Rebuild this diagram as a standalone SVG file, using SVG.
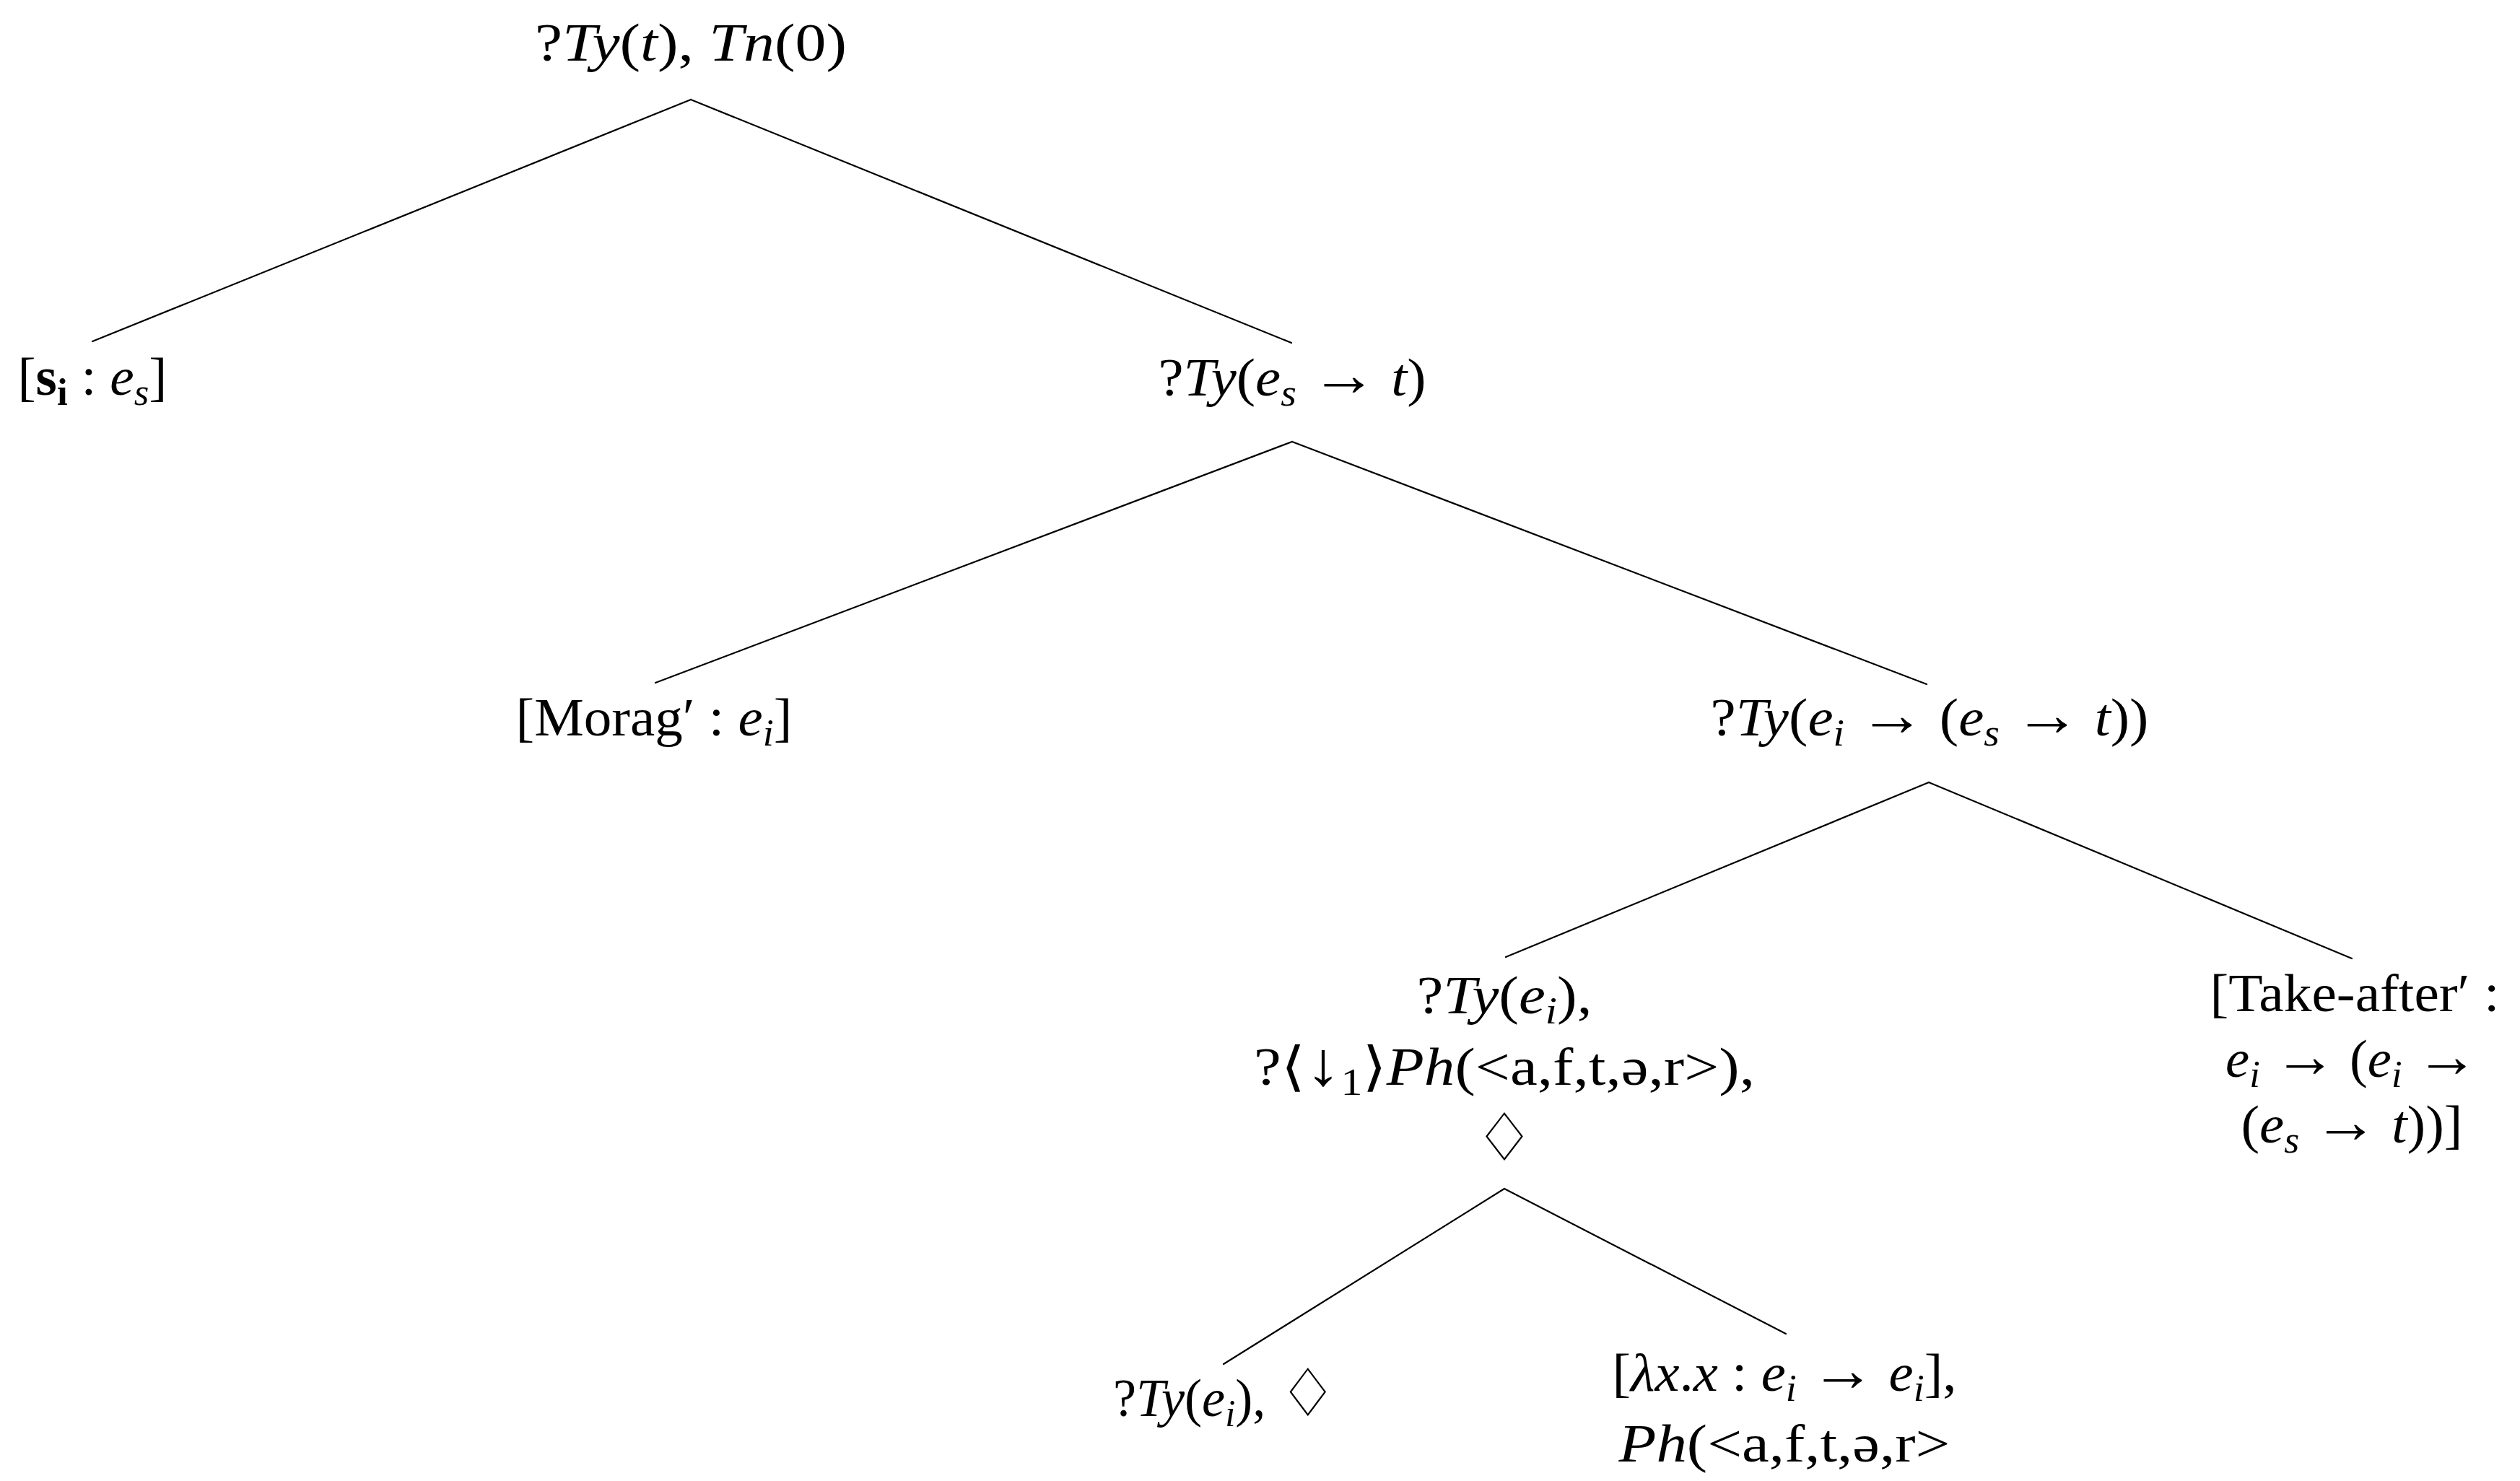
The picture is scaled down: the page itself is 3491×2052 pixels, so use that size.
<svg xmlns="http://www.w3.org/2000/svg" width="3491" height="2052" viewBox="0 0 3491 2052">
<style>
.t { font-family: "Liberation Serif", "DejaVu Serif", serif; font-size: 74px; fill: #000; }
.i { font-style: italic; }
.b { font-weight: bold; }
.sb { font-size: 52px; }
.sym { font-family: "DejaVu Sans", "DejaVu Serif", sans-serif; }
.ar { font-family: "Liberation Serif", serif; font-size: 86px; }
.dm { font-family: "DejaVu Sans", sans-serif; font-size: 92px; }
.edge { stroke: #000; stroke-width: 2.2; fill: none; stroke-linecap: round; }
</style>
<rect width="3491" height="2052" fill="#fff"/>
<g id="connectors">
<line class="edge" x1="957" y1="138" x2="128" y2="473"/>
<line class="edge" x1="957" y1="138" x2="1789" y2="475"/>
<line class="edge" x1="1790" y1="612" x2="908" y2="946"/>
<line class="edge" x1="1790" y1="612" x2="2669" y2="948"/>
<line class="edge" x1="2672" y1="1084" x2="2086" y2="1326"/>
<line class="edge" x1="2672" y1="1084" x2="3258" y2="1328"/>
<line class="edge" x1="2084" y1="1647" x2="1695" y2="1890"/>
<line class="edge" x1="2084" y1="1647" x2="2474" y2="1848"/>
</g>
<g id="node-root">
<text class="t" x="957" y="84" text-anchor="middle" textLength="432" lengthAdjust="spacingAndGlyphs">?<tspan class="i">Ty</tspan>(<tspan class="i">t</tspan>), <tspan class="i">Tn</tspan>(0)</text>
</g>
<g id="node-si">
<text class="t" x="128" y="547" text-anchor="middle" textLength="207" lengthAdjust="spacingAndGlyphs">[<tspan class="b">s</tspan><tspan class="b sb" dy="14">i</tspan><tspan dy="-14"> : </tspan><tspan class="i">e</tspan><tspan class="i sb" dy="14">s</tspan><tspan dy="-14">]</tspan></text>
</g>
<g id="node-es-t">
<text class="t" x="1790" y="548" text-anchor="middle" textLength="371" lengthAdjust="spacingAndGlyphs">?<tspan class="i">Ty</tspan>(<tspan class="i">e</tspan><tspan class="i sb" dy="14">s</tspan><tspan dy="-14"> </tspan><tspan class="ar">→</tspan> <tspan class="i">t</tspan>)</text>
</g>
<g id="node-morag">
<text class="t" x="906" y="1019" text-anchor="middle" textLength="383" lengthAdjust="spacingAndGlyphs">[Morag′ : <tspan class="i">e</tspan><tspan class="i sb" dy="14">i</tspan><tspan dy="-14">]</tspan></text>
</g>
<g id="node-ei-es-t">
<text class="t" x="2673" y="1019" text-anchor="middle" textLength="607" lengthAdjust="spacingAndGlyphs">?<tspan class="i">Ty</tspan>(<tspan class="i">e</tspan><tspan class="i sb" dy="14">i</tspan><tspan dy="-14"> </tspan><tspan class="ar">→</tspan> (<tspan class="i">e</tspan><tspan class="i sb" dy="14">s</tspan><tspan dy="-14"> </tspan><tspan class="ar">→</tspan> <tspan class="i">t</tspan>))</text>
</g>
<g id="node-tyei-ph">
<text class="t" x="2084" y="1404" text-anchor="middle" textLength="243" lengthAdjust="spacingAndGlyphs">?<tspan class="i">Ty</tspan>(<tspan class="i">e</tspan><tspan class="i sb" dy="14">i</tspan><tspan dy="-14">),</tspan></text>
<text class="t" x="2084" y="1503" text-anchor="middle" textLength="694" lengthAdjust="spacingAndGlyphs">?<tspan class="sym">⟨</tspan><tspan class="ar">↓</tspan><tspan class="sb" dy="14">1</tspan><tspan class="sym" dy="-14">⟩</tspan><tspan class="i">Ph</tspan>(&lt;a,f,t,ə,r&gt;),</text>
<text class="t dm" x="2084" y="1608" text-anchor="middle">♢</text>
</g>
<g id="node-take-after">
<text class="t" x="3262" y="1401" text-anchor="middle" textLength="401" lengthAdjust="spacingAndGlyphs">[Take-after′ :</text>
<text class="t" x="3258" y="1492" text-anchor="middle" textLength="350" lengthAdjust="spacingAndGlyphs"><tspan class="i">e</tspan><tspan class="i sb" dy="14">i</tspan><tspan dy="-14"> </tspan><tspan class="ar">→</tspan> (<tspan class="i">e</tspan><tspan class="i sb" dy="14">i</tspan><tspan dy="-14"> </tspan><tspan class="ar">→</tspan></text>
<text class="t" x="3258" y="1583" text-anchor="middle" textLength="307" lengthAdjust="spacingAndGlyphs">(<tspan class="i">e</tspan><tspan class="i sb" dy="14">s</tspan><tspan dy="-14"> </tspan><tspan class="ar">→</tspan> <tspan class="i">t</tspan>))]</text>
</g>
<g id="node-tyei-diamond">
<text class="t" x="1697" y="1962" text-anchor="middle" textLength="310" lengthAdjust="spacingAndGlyphs">?<tspan class="i">Ty</tspan>(<tspan class="i">e</tspan><tspan class="i sb" dy="14">i</tspan><tspan dy="-14">), </tspan><tspan class="dm">♢</tspan></text>
</g>
<g id="node-lambda">
<text class="t" x="2472" y="1927" text-anchor="middle" textLength="477" lengthAdjust="spacingAndGlyphs">[<tspan class="i">λx</tspan>.<tspan class="i">x</tspan> : <tspan class="i">e</tspan><tspan class="i sb" dy="14">i</tspan><tspan dy="-14"> </tspan><tspan class="ar">→</tspan> <tspan class="i">e</tspan><tspan class="i sb" dy="14">i</tspan><tspan dy="-14">],</tspan></text>
<text class="t" x="2472" y="2025" text-anchor="middle" textLength="459" lengthAdjust="spacingAndGlyphs"><tspan class="i">Ph</tspan>(&lt;a,f,t,ə,r&gt;</text>
</g>
</svg>
